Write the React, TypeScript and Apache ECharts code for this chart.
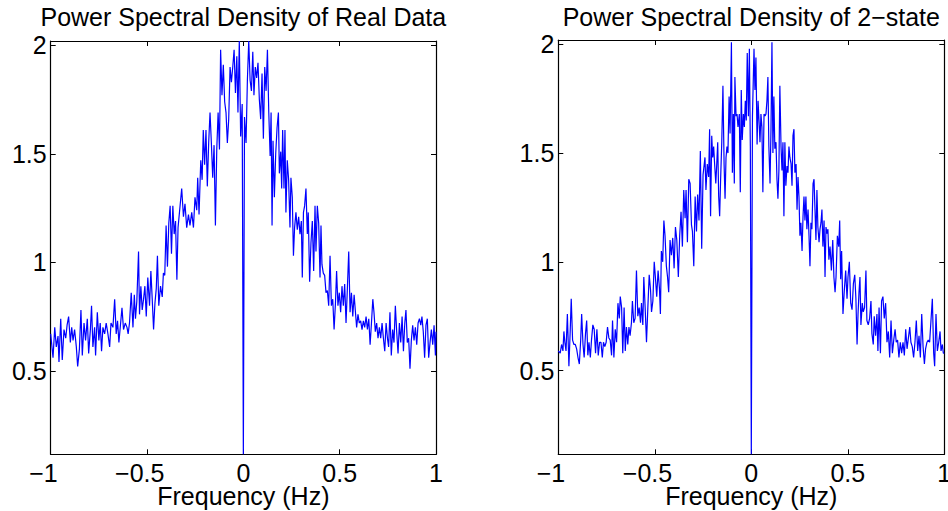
import React, { useEffect, useRef } from "react";
import * as echarts from "echarts";

const TITLES = ["Power Spectral Density of Real Data", "Power Spectral Density of 2\u2212state"];
const X_NAME = "Frequency (Hz)";
const X_TICKS = [-1, -0.5, 0, 0.5, 1];
const Y_TICKS = [0.5, 1, 1.5, 2];

// Left panel: frequency (Hz) and PSD values
const LEFT_FREQ = [
  -1.0, -0.988, -0.979, -0.971, -0.962, -0.957, -0.948, -0.94, -0.931, -0.922,
  -0.915, -0.907, -0.898, -0.891, -0.884, -0.876, -0.867, -0.86, -0.851, -0.843,
  -0.836, -0.827, -0.819, -0.81, -0.803, -0.794, -0.788, -0.781, -0.772, -0.767,
  -0.758, -0.75, -0.743, -0.736, -0.729, -0.72, -0.712, -0.703, -0.694, -0.687,
  -0.677, -0.668, -0.66, -0.653, -0.646, -0.637, -0.63, -0.622, -0.613, -0.604,
  -0.598, -0.591, -0.582, -0.573, -0.566, -0.56, -0.553, -0.544, -0.539, -0.532,
  -0.525, -0.518, -0.511, -0.504, -0.496, -0.487, -0.48, -0.473, -0.466, -0.459,
  -0.452, -0.446, -0.439, -0.43, -0.421, -0.415, -0.408, -0.401, -0.394, -0.387,
  -0.38, -0.373, -0.366, -0.359, -0.352, -0.345, -0.339,
  -0.32, -0.311, -0.303, -0.294, -0.285, -0.277, -0.268, -0.259, -0.251, -0.242,
  -0.237, -0.23, -0.221, -0.214, -0.208, -0.201, -0.194, -0.187, -0.18, -0.173,
  -0.166, -0.159, -0.152, -0.145, -0.138, -0.131, -0.124, -0.118, -0.111, -0.104,
  -0.097, -0.09, -0.083, -0.076, -0.069, -0.062, -0.055, -0.048, -0.041, -0.034,
  -0.028, -0.021, -0.014, -0.006,
  0,
  0.006, 0.014, 0.021, 0.028, 0.035, 0.042, 0.049, 0.055, 0.062, 0.069,
  0.076, 0.083, 0.09, 0.097, 0.104, 0.111, 0.118, 0.125, 0.132,
  0.139, 0.144, 0.149, 0.154, 0.161, 0.168, 0.175, 0.182, 0.187, 0.194,
  0.199, 0.204, 0.211, 0.216, 0.221, 0.228, 0.235, 0.242, 0.247, 0.254,
  0.26, 0.266, 0.273, 0.28, 0.287, 0.294, 0.301, 0.306, 0.312, 0.318,
  0.325, 0.332, 0.337, 0.344, 0.351, 0.358, 0.365, 0.372, 0.377, 0.384,
  0.391, 0.398, 0.403, 0.408, 0.415, 0.422, 0.429, 0.436, 0.443, 0.45,
  0.457, 0.464, 0.471, 0.478, 0.484, 0.491, 0.498, 0.505, 0.512, 0.519,
  0.526, 0.533, 0.54, 0.547, 0.554, 0.561, 0.568, 0.575, 0.581, 0.588,
  0.595, 0.602, 0.609, 0.616, 0.623, 0.63, 0.637, 0.644, 0.651, 0.658,
  0.665, 0.672, 0.678, 0.685, 0.692, 0.699, 0.706, 0.713, 0.72, 0.727,
  0.734, 0.741, 0.748, 0.754, 0.761, 0.768, 0.775, 0.782, 0.789, 0.796,
  0.803, 0.81, 0.817, 0.824, 0.831, 0.838, 0.844, 0.851, 0.858, 0.865,
  0.872, 0.879, 0.886, 0.893, 0.9, 0.907, 0.914, 0.921, 0.927, 0.934,
  0.941, 0.948, 0.955, 0.962, 0.969, 0.976, 0.983, 0.99, 0.997, 1.0,
];
const LEFT_PSD = [
  0.67, 0.56, 0.7, 0.61, 0.66, 0.54, 0.74, 0.55, 0.69, 0.65,
  0.71, 0.75, 0.63, 0.7, 0.64, 0.69, 0.61, 0.52, 0.6, 0.78,
  0.57, 0.72, 0.64, 0.74, 0.58, 0.69, 0.8, 0.61, 0.7, 0.57,
  0.77, 0.64, 0.72, 0.59, 0.7, 0.67, 0.72, 0.67, 0.61, 0.72,
  0.7, 0.83, 0.67, 0.73, 0.63, 0.72, 0.79, 0.69, 0.72, 0.7,
  0.67, 0.72, 0.86, 0.7, 0.85, 0.74, 0.82, 1.05, 0.76, 0.89,
  0.78, 0.83, 0.89, 0.75, 0.93, 0.8, 0.96, 0.83, 0.69, 0.81,
  0.88, 1.03, 0.8, 0.89, 0.84, 0.95, 0.94, 1.17, 0.98, 1.18,
  1.26, 1.04, 1.26, 1.13, 1.19, 0.92, 1.16,
  1.34, 1.21, 1.27, 1.16, 1.22, 1.17, 1.23, 1.16, 1.3, 1.24,
  1.39, 1.22, 1.47, 1.38, 1.61, 1.45, 1.61, 1.35, 1.55, 1.69,
  1.55, 1.39, 1.54, 1.17, 1.52, 1.69, 1.52, 1.98, 1.77, 1.91,
  1.74, 1.69, 1.55, 1.66, 1.9, 1.83, 1.9, 1.98, 1.78, 1.95,
  1.69, 2.02, 1.58, 1.73,
  0.115,
  1.67, 1.55, 1.84, 2.02, 1.84, 1.79, 1.97, 1.77, 1.9, 1.85,
  1.92, 1.75, 1.66, 1.87, 1.57, 1.9, 1.79, 1.98, 1.69,
  1.49, 1.69, 1.17, 1.56, 1.3, 1.5, 1.62, 1.69, 1.41, 1.51,
  1.34, 1.61, 1.34, 1.61, 1.23, 1.47, 1.38, 1.16, 1.39, 1.3,
  1.03, 1.16, 1.23, 1.15, 1.21, 1.13, 1.19, 0.93, 1.23, 1.26,
  1.34, 1.13, 1.23, 0.91, 1.09, 1.19, 0.96, 1.26, 1.05, 1.26,
  1.18, 0.93, 1.17, 0.99, 0.95, 0.94, 0.86, 0.87, 0.8, 1.03,
  0.8, 0.83, 0.69, 0.81, 0.96, 0.8, 0.86, 0.77, 0.89, 0.8,
  0.9, 0.72, 0.88, 1.05, 0.77, 0.86, 0.75, 0.85, 0.78, 0.7,
  0.76, 0.72, 0.73, 0.69, 0.73, 0.7, 0.75, 0.69, 0.74, 0.62,
  0.72, 0.83, 0.77, 0.68, 0.72, 0.65, 0.7, 0.65, 0.72, 0.65,
  0.59, 0.72, 0.65, 0.61, 0.77, 0.57, 0.69, 0.63, 0.8, 0.68,
  0.58, 0.72, 0.63, 0.75, 0.59, 0.72, 0.78, 0.63, 0.65, 0.51,
  0.64, 0.71, 0.64, 0.7, 0.62, 0.72, 0.74, 0.71, 0.75, 0.68,
  0.56, 0.71, 0.74, 0.56, 0.63, 0.69, 0.62, 0.71, 0.57, 0.68,
];

// Right panel
const RIGHT_FREQ = [
  -1.0, -0.99, -0.983, -0.976, -0.971, -0.966, -0.96, -0.953, -0.945, -0.938,
  -0.933, -0.926, -0.919, -0.912, -0.905, -0.898, -0.891, -0.884, -0.879, -0.872,
  -0.866, -0.859, -0.853, -0.847, -0.841, -0.834, -0.828, -0.821, -0.814, -0.807,
  -0.8, -0.793, -0.786, -0.779, -0.772, -0.766, -0.759, -0.752, -0.745, -0.738,
  -0.731, -0.724, -0.719, -0.712, -0.705, -0.698, -0.691, -0.684, -0.679, -0.672,
  -0.666, -0.659, -0.653, -0.647, -0.64, -0.634, -0.628, -0.621, -0.616, -0.609,
  -0.602, -0.595, -0.588, -0.581, -0.574, -0.569, -0.562, -0.557, -0.55, -0.543,
  -0.536, -0.529, -0.522, -0.517, -0.51, -0.503, -0.497, -0.49, -0.483, -0.476,
  -0.471, -0.466, -0.459, -0.453, -0.447, -0.44, -0.434, -0.428, -0.421, -0.414,
  -0.407, -0.4, -0.393, -0.386, -0.378, -0.371, -0.364, -0.357, -0.35, -0.343,
  -0.338, -0.331, -0.324, -0.317, -0.31, -0.305, -0.298, -0.291, -0.284, -0.278,
  -0.271, -0.264, -0.257, -0.25,
  -0.24, -0.235, -0.228, -0.221, -0.216, -0.211, -0.205, -0.2, -0.195, -0.19,
  -0.184, -0.179, -0.174, -0.169, -0.164, -0.159, -0.153, -0.147, -0.141, -0.136,
  -0.131, -0.126, -0.121, -0.115, -0.11, -0.103, -0.098, -0.093, -0.088, -0.085,
  -0.079, -0.074, -0.069, -0.062, -0.057, -0.052, -0.047, -0.041, -0.036, -0.031,
  -0.026, -0.021, -0.015, -0.01, -0.005,
  0,
  0.006, 0.014, 0.019, 0.024, 0.03, 0.035, 0.04, 0.045, 0.05, 0.055,
  0.06, 0.066, 0.071, 0.076, 0.081, 0.086, 0.091, 0.097, 0.102, 0.107,
  0.112, 0.117, 0.122, 0.128, 0.133, 0.138, 0.143, 0.148, 0.154, 0.159,
  0.164, 0.169, 0.174, 0.179, 0.185, 0.19, 0.195, 0.2, 0.206, 0.211,
  0.216, 0.221, 0.226, 0.232, 0.237, 0.242, 0.247, 0.252, 0.257, 0.263,
  0.268, 0.273, 0.278, 0.283, 0.288, 0.294, 0.299, 0.304, 0.309, 0.314,
  0.32, 0.325, 0.33, 0.335, 0.34, 0.345, 0.351, 0.356, 0.361, 0.366,
  0.371, 0.377, 0.382, 0.387, 0.392, 0.397, 0.402,
  0.408, 0.415, 0.422, 0.428, 0.434, 0.439, 0.446, 0.453, 0.458, 0.463,
  0.468, 0.475, 0.482, 0.489, 0.496, 0.501, 0.508, 0.515, 0.522, 0.529,
  0.536, 0.542, 0.548, 0.553, 0.558, 0.563, 0.568, 0.575, 0.58, 0.587,
  0.594, 0.599, 0.606, 0.613, 0.62, 0.625, 0.632, 0.637, 0.644, 0.651,
  0.656, 0.662, 0.669, 0.675, 0.682, 0.689, 0.696, 0.703, 0.71, 0.717,
  0.724, 0.731, 0.738, 0.745, 0.751, 0.758, 0.765, 0.772, 0.779, 0.786,
  0.793, 0.8, 0.807, 0.814, 0.821, 0.827, 0.834, 0.841, 0.848, 0.855,
  0.862, 0.869, 0.876, 0.883, 0.89, 0.897, 0.903, 0.91, 0.917, 0.924,
  0.931, 0.938, 0.945, 0.95, 0.957, 0.964, 0.971, 0.978, 0.983, 0.99,
  0.995, 1.0,
];
const RIGHT_PSD = [
  0.59, 0.58, 0.62, 0.59, 0.68, 0.63, 0.59, 0.76, 0.52, 0.69,
  0.83, 0.64, 0.62, 0.62, 0.6, 0.56, 0.53, 0.64, 0.76, 0.62,
  0.56, 0.67, 0.73, 0.57, 0.63, 0.56, 0.64, 0.71, 0.69, 0.58,
  0.69, 0.57, 0.63, 0.63, 0.56, 0.63, 0.61, 0.63, 0.7, 0.65,
  0.64, 0.57, 0.73, 0.56, 0.69, 0.63, 0.81, 0.74, 0.84, 0.79,
  0.58, 0.79, 0.59, 0.7, 0.62, 0.7, 0.66, 0.72, 0.82, 0.72,
  0.74, 0.96, 0.75, 0.79, 0.72, 0.81, 0.71, 0.93, 0.79, 0.63,
  0.79, 0.94, 0.87, 0.77, 0.82, 1.0, 0.93, 0.84, 0.96, 0.88,
  0.76, 1.05, 1.0, 1.19, 1.12, 0.98, 0.93, 0.86, 1.1, 1.03,
  1.11, 0.97, 1.16, 1.1, 0.93, 1.12, 1.23, 1.07, 1.33, 1.2,
  1.33, 1.09, 1.38, 1.36, 1.17, 1.14, 0.98, 1.3, 1.14, 1.31,
  1.19, 1.51, 1.06, 1.4,
  1.48, 1.33, 1.45, 1.39, 1.61, 1.21, 1.58, 1.48, 1.53, 1.45,
  1.36, 1.45, 1.55, 1.3, 1.21, 1.38, 1.55, 1.81, 1.45, 1.29,
  1.48, 1.53, 1.5, 1.76, 1.59, 2.01, 1.41, 1.68, 1.36, 1.85,
  1.67, 1.68, 1.62, 1.68, 1.32, 1.79, 1.56, 1.68, 1.62, 1.74,
  1.65, 1.96, 1.67, 1.98, 1.53,
  0.115,
  1.67, 1.98, 1.79, 1.94, 1.54, 1.74, 1.65, 1.55, 1.68, 1.62,
  1.32, 1.68, 1.67, 1.68, 1.74, 1.85, 1.53, 1.36, 1.61, 2.01,
  1.5, 1.76, 1.52, 1.55, 1.38, 1.29, 1.42, 1.81, 1.53, 1.42,
  1.55, 1.21, 1.55, 1.35, 1.44, 1.41, 1.53, 1.48, 1.45, 1.35,
  1.58, 1.61, 1.41, 1.45, 1.24, 1.39, 1.3, 1.12, 1.18, 1.05,
  1.21, 1.3, 1.19, 1.3, 1.15, 1.24, 1.12, 0.98, 1.18, 1.15,
  1.36, 1.38, 1.24, 1.1, 1.33, 1.16, 1.09, 1.15, 1.18, 1.24,
  1.07, 1.19, 0.93, 1.16, 1.13, 1.15, 1.01,
  1.07, 0.96, 1.1, 0.93, 0.86, 0.93, 1.12, 1.07, 1.19, 0.92,
  1.05, 0.76, 0.87, 0.96, 0.83, 0.93, 1.0, 0.81, 0.78, 0.9,
  0.94, 0.83, 0.62, 0.76, 0.86, 0.93, 0.71, 0.81, 0.77, 0.79,
  0.96, 0.73, 0.71, 0.74, 0.82, 0.67, 0.62, 0.75, 0.66, 0.76,
  0.59, 0.79, 0.58, 0.82, 0.84, 0.74, 0.81, 0.63, 0.68, 0.56,
  0.73, 0.58, 0.64, 0.69, 0.63, 0.64, 0.56, 0.63, 0.58, 0.63,
  0.57, 0.69, 0.6, 0.65, 0.7, 0.63, 0.61, 0.56, 0.63, 0.73,
  0.59, 0.66, 0.56, 0.76, 0.61, 0.53, 0.6, 0.63, 0.64, 0.63,
  0.73, 0.83, 0.58, 0.52, 0.76, 0.59, 0.63, 0.68, 0.59, 0.62,
  0.58, 0.58,
];

const Y_MIN = 0.115;
const Y_MAX = 2.02;
const FONT = "'Liberation Sans', Arial, Helvetica, sans-serif";

function xLabel(v: number) {
  if (v < 0) return "\u2212" + String(Math.abs(v)) + "{s| }";
  return String(v);
}

export default function App() {
  const ref = useRef<HTMLDivElement>(null);
  useEffect(() => {
    if (!ref.current) return;
    const chart = echarts.init(ref.current, undefined, { renderer: "svg" });
    const axisLine = { show: true, onZero: false, lineStyle: { color: "#000", width: 1.2 } };
    const axisTick = { show: true, inside: true, length: 5, lineStyle: { color: "#000", width: 1 } };
    const grids = [
      { left: 50.7, top: 41, width: 385.3, height: 413.3, outerBoundsMode: "none", containLabel: false },
      { left: 558.3, top: 40, width: 386, height: 414.3, outerBoundsMode: "none", containLabel: false },
    ];
    const xAxis: any[] = [];
    const yAxis: any[] = [];
    grids.forEach((_, i) => {
      xAxis.push({
        type: "value", gridIndex: i, min: -1, max: 1, interval: 0.5, position: "bottom",
        axisLine, axisTick,
        splitLine: { show: false },
        axisLabel: {
          margin: 9, fontSize: 25, lineHeight: 19, color: "#000", fontFamily: FONT,
          formatter: xLabel,
          rich: { s: { width: 14.6, fontSize: 25, lineHeight: 19, fontFamily: FONT } },
        },
        name: X_NAME, nameLocation: "middle", nameGap: 32, nameMoveOverlap: false,
        nameTextStyle: { fontSize: 25, lineHeight: 19, color: "#000", fontFamily: FONT },
      });
      xAxis.push({
        type: "value", gridIndex: i, min: -1, max: 1, interval: 0.5, position: "top",
        axisLine, axisTick, splitLine: { show: false }, axisLabel: { show: false },
      });
      yAxis.push({
        type: "value", gridIndex: i, min: Y_MIN, max: Y_MAX, position: "left",
        axisLine, axisTick: { ...axisTick, customValues: Y_TICKS },
        splitLine: { show: false },
        axisLabel: {
          customValues: Y_TICKS, margin: 4, fontSize: 25, color: "#000", fontFamily: FONT,
          formatter: (v: number) => String(v),
        },
      });
      yAxis.push({
        type: "value", gridIndex: i, min: Y_MIN, max: Y_MAX, position: "right",
        axisLine, axisTick: { ...axisTick, customValues: Y_TICKS },
        splitLine: { show: false }, axisLabel: { show: false },
      });
    });
    const centers = [50.7 + 385.3 / 2, 558.3 + 386 / 2];
    chart.setOption({
      animation: false,
      backgroundColor: "#fff",
      title: TITLES.map((t, i) => ({
        text: t, left: centers[i], top: 4, textAlign: "center", padding: 0,
        textStyle: { fontSize: 25, fontWeight: "normal", color: "#000", fontFamily: FONT },
      })),
      grid: grids,
      xAxis,
      yAxis,
      series: [
        {
          type: "line", xAxisIndex: 0, yAxisIndex: 0, symbol: "none", showSymbol: false,
          data: LEFT_FREQ.map((f, i) => [f, LEFT_PSD[i]]),
          lineStyle: { color: "#0000ff", width: 1.2 },
        },
        {
          type: "line", xAxisIndex: 2, yAxisIndex: 2, symbol: "none", showSymbol: false,
          data: RIGHT_FREQ.map((f, i) => [f, RIGHT_PSD[i]]),
          lineStyle: { color: "#0000ff", width: 1.2 },
        },
      ],
    });
    return () => chart.dispose();
  }, []);
  return (
    <div
      ref={ref}
      style={{ position: "absolute", left: 0, top: 0, width: 948, height: 511, background: "#fff" }}
    />
  );
}
